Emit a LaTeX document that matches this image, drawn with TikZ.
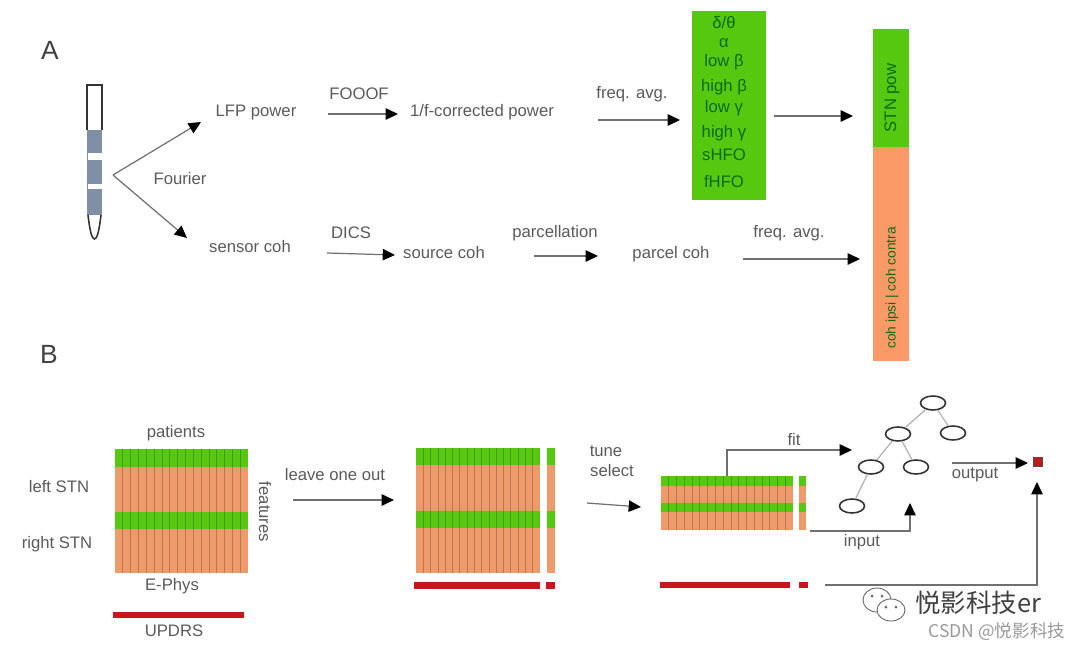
\documentclass[tikz,border=0pt]{standalone}
\usepackage{fontspec}
\setmainfont{Liberation Sans}
\newfontfamily\cjkfont{Noto Sans CJK SC}
\usepackage{xcolor}
\usetikzlibrary{arrows.meta,shapes.geometric}
\definecolor{txtgray}{HTML}{5A5A5A}
\definecolor{linegray}{HTML}{707070}
\definecolor{powgreen}{HTML}{55C80F}
\definecolor{bandtxt}{HTML}{0B6B1A}
\definecolor{cohorange}{HTML}{FB9A66}
\definecolor{matorange}{HTML}{EE9A6B}
\definecolor{updrsred}{HTML}{C8161D}
\definecolor{shaftblue}{HTML}{7E8FA6}
\tikzset{
lbl/.style={text=txtgray,font=\fontsize{9.5}{11}\selectfont,inner sep=0pt},
bandlbl/.style={text=bandtxt,font=\fontsize{9.5}{11}\selectfont,inner sep=0pt},
barlbl/.style={text=bandtxt,font=\fontsize{7.8}{9}\selectfont,inner sep=0pt},
panel/.style={text=black!75,font=\fontsize{15}{17}\selectfont,inner sep=0pt},
arr/.style={-{Triangle[length=7pt,width=6.5pt,black]},linegray,line width=0.7pt},
leaf/.style={shape=ellipse,draw=black!80,fill=white,line width=0.9pt,minimum width=0.5cm,minimum height=0.28cm,inner sep=0pt},
branch/.style={black!30,line width=0.7pt}
}
\newcommand{\featmat}[8]{%
\fill[matorange](#1,#3)rectangle(#2,#7);
\fill[powgreen](#1,#3)rectangle(#2,#4);
\fill[powgreen](#1,#5)rectangle(#2,#6);
\foreach \i in {1,...,#8}
\draw[black,opacity=0.22,line width=0.4pt]({#1+\i*(#2-#1)/(#8+1)},#3)--({#1+\i*(#2-#1)/(#8+1)},#7);
}
\begin{document}
\begin{tikzpicture}[x=0.02cm,y=-0.02cm]
\useasboundingbox(0,0)rectangle(1080,650);
\node[panel](panelA)at(50,50){A};
\node[panel](panelB)at(49,354){B};
% electrode
\fill[shaftblue](87,130)rectangle(102,215);
\fill[white](88,153)rectangle(102,160);
\fill[white](88,184)rectangle(102,189);
\draw[black!80,line width=0.9pt](87,130)--(87,85)--(102,85)--(102,130);
\draw[black!80,line width=0.9pt](88,215)..controls(90,232)and(92,239)..(94.5,239)..controls(97,239)and(99,232)..(101,215);
\coordinate(split)at(113,175);
\coordinate(lfpin)at(201,122);
\coordinate(sensorin)at(187,238);
\draw[arr](split)--(lfpin);
\draw[arr](split)--(sensorin);
\node[lbl](fourier)at(180,179){Fourier};
% upper row
\node[lbl](lfp)at(256,112){LFP power};
\node[lbl](fooof)at(359,94){FOOOF};
\node[lbl](corrected)at(482,112){1/f-corrected power};
\node[lbl](favgA)at(632,94){freq. avg.};
\coordinate(fooofA)at(328,114);
\coordinate(fooofB)at(398,114);
\coordinate(favgAa)at(598,120);
\coordinate(favgAb)at(680,120);
\coordinate(powA)at(774,116);
\coordinate(powB)at(853,116);
\draw[arr](fooofA)--(fooofB);
\draw[arr](favgAa)--(favgAb);
\draw[arr](powA)--(powB);
\fill[powgreen](692,11)rectangle(766,200);
\foreach \y/\t/\n in {23/δ\slash θ/dt,43/α/al,62/low β/lb,87/high β/hb,108/low γ/lg,133/high γ/hg,155/sHFO/sh,182/fHFO/fh}
\node[bandlbl](band\n)at(724,\y){\t};
\fill[powgreen](873,29)rectangle(909,147);
\fill[cohorange](873,147)rectangle(909,361);
\node[bandlbl,rotate=90](stnpow)at(892,98){STN pow};
\node[barlbl,rotate=90](cohbar)at(892,288){coh ipsi | coh contra};
% lower row
\node[lbl](sensor)at(250,247){sensor coh};
\node[lbl](dics)at(351,233){DICS};
\node[lbl](source)at(444,253){source coh};
\node[lbl](parc)at(555,233){parcellation};
\node[lbl](parcel)at(671,254){parcel coh};
\node[lbl](favgB)at(789,233){freq. avg.};
\coordinate(dicsA)at(327,253);
\coordinate(dicsB)at(395,255);
\coordinate(parcA)at(534,256);
\coordinate(parcB)at(598,256);
\coordinate(favgBa)at(743,259);
\coordinate(favgBb)at(860,259);
\draw[arr](dicsA)--(dicsB);
\draw[arr](parcA)--(parcB);
\draw[arr](favgBa)--(favgBb);
% panel B matrices
\featmat{115}{248}{449}{467}{512}{529}{573}{16}
\node[lbl](patients)at(176,433){patients};
\node[lbl](leftstn)at(59,487){left STN};
\node[lbl](rightstn)at(57,544){right STN};
\node[lbl,rotate=-90](features)at(265,512){features};
\node[lbl](ephys)at(172,586){E-Phys};
\fill[updrsred](113,612)rectangle(244,618);
\node[lbl](updrs)at(174,631){UPDRS};
\node[lbl](loo)at(335,475){leave one out};
\coordinate(looA)at(293,500);
\coordinate(looB)at(394,500);
\draw[arr](looA)--(looB);
\featmat{416}{540}{448}{465}{511}{528}{573}{16}
\fill[matorange](547,448)rectangle(555,573);
\fill[powgreen](547,448)rectangle(555,465);
\fill[powgreen](547,511)rectangle(555,528);
\fill[updrsred](414,582)rectangle(540,589);
\fill[updrsred](546,582)rectangle(555,589);
\node[lbl](tune)at(606,451){tune};
\node[lbl](select)at(612,471){select};
\coordinate(tuneA)at(587,503);
\coordinate(tuneB)at(641,507);
\draw[arr](tuneA)--(tuneB);
\featmat{661}{793}{476}{486}{503}{512}{530}{16}
\fill[matorange](799,476)rectangle(806,530);
\fill[powgreen](799,476)rectangle(806,486);
\fill[powgreen](799,503)rectangle(806,512);
\fill[updrsred](660,582)rectangle(790,588);
\fill[updrsred](799,582)rectangle(808,588);
% tree
\node[leaf](root)at(933,403){};
\node[leaf](midL)at(898,434){};
\node[leaf](midR)at(953,433){};
\node[leaf](lowL)at(871,467){};
\node[leaf](lowR)at(916,467){};
\node[leaf](bottom)at(852,506){};
\draw[branch](root)--(midL);
\draw[branch](root)--(midR);
\draw[branch](midL)--(lowL);
\draw[branch](midL)--(lowR);
\draw[branch](lowL)--(bottom);
\node[draw=black!70,fill=updrsred,line width=0.6pt,minimum size=0.18cm,inner sep=0pt](pred)at(1038,462){};
\coordinate(fitA)at(727,476);
\coordinate(fitB)at(852,450);
\draw[arr](fitA)|-(fitB);
\node[lbl](fit)at(794,440){fit};
\coordinate(outA)at(952,463);
\coordinate(outB)at(1028,463);
\draw[arr](outA)--(outB);
\node[lbl](output)at(975,475){output};
\coordinate(inA)at(810,531);
\coordinate(inB)at(910,503);
\draw[arr](inA)-|(inB);
\node[lbl](input)at(862,542){input};
\coordinate(truthA)at(825,585);
\coordinate(truthB)at(1037,482);
\draw[arr](truthA)-|(truthB);
% watermark
\draw[black!60,fill=white,line width=0.5pt](877,600)ellipse(14 and 12);
\draw[black!60,fill=white,line width=0.5pt](891,610)ellipse(14 and 11);
\fill[black!60](872,596)circle(1.5)(882,596)circle(1.5)(886,607)circle(1.5)(896,607)circle(1.5);
\node[text=black!75,font=\cjkfont\fontsize{14.5}{16}\selectfont,inner sep=0pt,anchor=west](mark)at(915,603){悦影科技er};
\node[text=black!40,font=\cjkfont\fontsize{10}{12}\selectfont,inner sep=0pt,anchor=west](csdn)at(928,632){CSDN @悦影科技};
\end{tikzpicture}
\end{document}
